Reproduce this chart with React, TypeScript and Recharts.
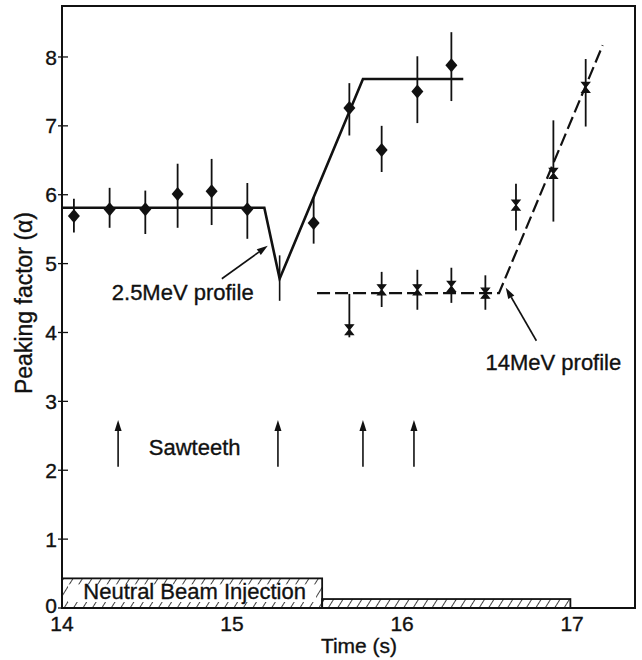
import {
  ComposedChart,
  ErrorBar,
  Line,
  ReferenceArea,
  ReferenceDot,
  ReferenceLine,
  Scatter,
  XAxis,
  YAxis
} from "recharts";

// 2.5 MeV peaking factor (diamonds)
const diamondTime = [14.07, 14.28, 14.49, 14.68, 14.88, 15.09, 15.48, 15.69, 15.88, 16.09, 16.29];
const diamondValue = [5.69, 5.79, 5.79, 6.01, 6.05, 5.79, 5.59, 7.26, 6.65, 7.5, 7.88];
const diamondLow = [5.45, 5.52, 5.43, 5.52, 5.56, 5.36, 5.29, 6.86, 6.33, 7.04, 7.36];
const diamondHigh = [5.94, 6.1, 6.06, 6.45, 6.52, 6.17, 5.96, 7.62, 7.0, 8.01, 8.36];

// 14 MeV peaking factor (crosses)
const crossTime = [15.69, 15.88, 16.09, 16.29, 16.49, 16.67, 16.89, 17.08];
const crossValue = [4.04, 4.62, 4.62, 4.67, 4.57, 5.85, 6.31, 7.56];
const crossLow = [3.93, 4.37, 4.33, 4.43, 4.33, 5.48, 5.61, 6.99];
const crossHigh = [4.56, 4.88, 4.91, 4.94, 4.83, 6.16, 7.08, 7.97];

// bare error bar at the dip of the 2.5 MeV fit
const dipTime = [15.28];
const dipValue = [4.78];
const dipLow = [4.46];
const dipHigh = [5.12];

// fitted profiles
const fit25Time = [14.0, 15.19, 15.28, 15.77, 16.36];
const fit25Value = [5.81, 5.81, 4.78, 7.68, 7.68];
const fit14Time = [15.5, 16.57, 17.18];
const fit14Value = [4.57, 4.57, 8.17];

// sawtooth crashes
const sawteethTime = [14.33, 15.27, 15.77, 16.07];
const sawteethFrom = 2.05;
const sawteethTo = 2.73;

// neutral beam injection phases
const nbiStart = [14.0, 15.53];
const nbiEnd = [15.53, 16.99];
const nbiLevel = [0.43, 0.13];

const xTicks = [14, 15, 16, 17];
const yTicks = [0, 1, 2, 3, 4, 5, 6, 7, 8];
const xMax = 17.37;
const yMax = 8.74;

const FONT = "'Liberation Sans', Arial, Helvetica, sans-serif";
const INK = "#111";
const textInk = { fontFamily: FONT, fill: INK, stroke: INK, strokeWidth: 0.35 };

const toPoints = (t: number[], v: number[], lo?: number[], hi?: number[]) =>
  t.map((time, i) => ({
    t: time,
    v: v[i],
    err: lo && hi ? [v[i] - lo[i], hi[i] - v[i]] : undefined
  }));

const diamonds = toPoints(diamondTime, diamondValue, diamondLow, diamondHigh);
const crosses = toPoints(crossTime, crossValue, crossLow, crossHigh);
const dip = toPoints(dipTime, dipValue, dipLow, dipHigh);
const fit25 = toPoints(fit25Time, fit25Value);
const fit14 = toPoints(fit14Time, fit14Value);

function Diamond({ cx, cy }: any) {
  return (
    <polygon
      points={`${cx},${cy - 7} ${cx + 6},${cy} ${cx},${cy + 7} ${cx - 6},${cy}`}
      fill={INK}
    />
  );
}

function Cross({ cx, cy }: any) {
  return (
    <path
      d={`M${cx - 4},${cy - 5} L${cx + 4},${cy - 5} L${cx - 4},${cy + 5} L${cx + 4},${cy + 5} Z`}
      fill={INK}
      stroke={INK}
      strokeWidth={1.2}
    />
  );
}

function Nothing() {
  return <g />;
}

function Arrow({ x1, y1, x2, y2 }: any) {
  const ang = Math.atan2(y2 - y1, x2 - x1);
  const len = 11;
  const half = 3.5;
  const bx = x2 - len * Math.cos(ang);
  const by = y2 - len * Math.sin(ang);
  const nx = -Math.sin(ang);
  const ny = Math.cos(ang);
  return (
    <g>
      <line x1={x1} y1={y1} x2={bx} y2={by} stroke={INK} strokeWidth={1.6} />
      <polygon
        points={`${x2},${y2} ${bx + half * nx},${by + half * ny} ${bx - half * nx},${by - half * ny}`}
        fill={INK}
      />
    </g>
  );
}

function textAt(label: string) {
  return ({ cx, cy }: any) => (
    <text x={cx} y={cy} textAnchor="middle" fontSize={22} {...textInk}>
      {label}
    </text>
  );
}

function HatchBox({ x, y, width, height, inset }: any) {
  return (
    <g>
      <defs>
        <pattern
          id="hatch"
          width="8"
          height="8"
          patternUnits="userSpaceOnUse"
          patternTransform="rotate(32)"
        >
          <line x1="0" y1="0" x2="0" y2="8" stroke={INK} strokeWidth="1.6" />
        </pattern>
      </defs>
      <rect x={x} y={y} width={width} height={height} fill="url(#hatch)" stroke={INK} strokeWidth={1.8} />
      {inset ? (
        <rect x={x + 6} y={y + 6} width={width - 12} height={height - 12} fill="#fff" />
      ) : null}
    </g>
  );
}

function YTick({ x, y, payload }: any) {
  const lift = payload.value === 0 ? -3 : 0;
  return (
    <g>
      <text x={x} y={y + lift} dy="0.36em" textAnchor="end" fontSize={21} {...textInk}>
        {payload.value}
      </text>
      <line x1={x + 1} x2={x + 11} y1={y} y2={y} stroke={INK} strokeWidth={1.3} />
    </g>
  );
}

export default function App() {
  return (
    <div style={{ position: "absolute", left: 0, top: 0, background: "#fff" }}>
      <ComposedChart width={642} height={660} margin={{ top: 6, right: 7, bottom: 0, left: 0 }}>
        <XAxis
          type="number"
          dataKey="t"
          domain={[14, xMax]}
          ticks={xTicks}
          allowDataOverflow
          height={52}
          tickLine={false}
          tickSize={0}
          tickMargin={8}
          stroke={INK}
          strokeWidth={2}
          tick={{ fontSize: 21, ...textInk }}
          label={{
            content: () => (
              <text x={359} y={653} textAnchor="middle" fontSize={21} {...textInk}>
                Time (s)
              </text>
            )
          }}
        />
        <YAxis
          type="number"
          domain={[0, yMax]}
          ticks={yTicks}
          allowDataOverflow
          width={62}
          tickLine={false}
          tickSize={0}
          tickMargin={5}
          stroke={INK}
          strokeWidth={2}
          tick={<YTick />}
          label={{
            content: () => (
              <text
                transform="translate(32,303) rotate(-90)"
                textAnchor="middle"
                fontSize={23}
                {...textInk}
              >
                Peaking factor (α)
              </text>
            )
          }}
        />

        <ReferenceArea x1={14} x2={xMax} y1={0} y2={yMax} fill="none" stroke={INK} strokeWidth={2} />

        {nbiStart.map((s, i) => (
          <ReferenceArea
            key={`nbi-${i}`}
            x1={s}
            x2={nbiEnd[i]}
            y1={0}
            y2={nbiLevel[i]}
            shape={(p: any) => <HatchBox {...p} inset={i === 0} />}
          />
        ))}
        <ReferenceDot x={14.78} y={0.13} r={0} shape={textAt("Neutral Beam Injection")} />

        {sawteethTime.map((t) => (
          <ReferenceLine
            key={`saw-${t}`}
            segment={[
              { x: t, y: sawteethFrom },
              { x: t, y: sawteethTo }
            ]}
            shape={<Arrow />}
          />
        ))}
        <ReferenceDot x={14.78} y={2.22} r={0} shape={textAt("Sawteeth")} />

        <ReferenceLine
          segment={[
            { x: 14.94, y: 4.78 },
            { x: 15.21, y: 5.26 }
          ]}
          shape={<Arrow />}
        />
        <ReferenceDot x={14.71} y={4.47} r={0} shape={textAt("2.5MeV profile")} />

        <ReferenceLine
          segment={[
            { x: 16.79, y: 3.88 },
            { x: 16.61, y: 4.65 }
          ]}
          shape={<Arrow />}
        />
        <ReferenceDot x={16.89} y={3.46} r={0} shape={textAt("14MeV profile")} />

        <Line
          data={fit25}
          dataKey="v"
          type="linear"
          stroke={INK}
          strokeWidth={2.6}
          dot={false}
          activeDot={false}
          isAnimationActive={false}
        />
        <Line
          data={fit14}
          dataKey="v"
          type="linear"
          stroke={INK}
          strokeWidth={2.2}
          strokeDasharray="13 5"
          dot={false}
          activeDot={false}
          isAnimationActive={false}
        />

        <Scatter data={dip} dataKey="v" shape={<Nothing />} isAnimationActive={false}>
          <ErrorBar dataKey="err" direction="y" width={0} stroke={INK} strokeWidth={1.6} />
        </Scatter>
        <Scatter data={diamonds} dataKey="v" shape={<Diamond />} isAnimationActive={false}>
          <ErrorBar dataKey="err" direction="y" width={0} stroke={INK} strokeWidth={1.8} />
        </Scatter>
        <Scatter data={crosses} dataKey="v" shape={<Cross />} isAnimationActive={false}>
          <ErrorBar dataKey="err" direction="y" width={0} stroke={INK} strokeWidth={1.8} />
        </Scatter>
      </ComposedChart>
    </div>
  );
}
